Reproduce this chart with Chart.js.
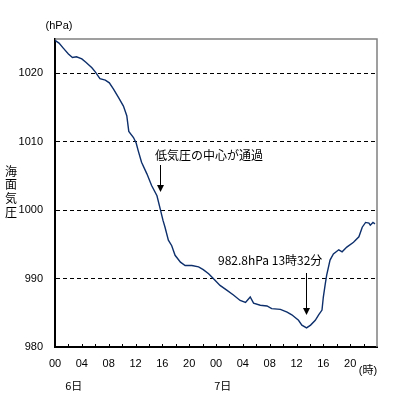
<!DOCTYPE html>
<html>
<head>
<meta charset="utf-8">
<script src="https://cdn.jsdelivr.net/npm/chart.js@4"></script>
<style>
  html, body { margin: 0; padding: 0; background: #fff; }
</style>
</head>
<body>
<canvas id="pressureChart" width="399" height="399"></canvas>
<script>
// elapsed hours since 6日 00時
const hours = [
  0.0, 0.6, 1.2, 2.0, 2.6, 3.2, 4.0, 4.6, 5.5, 6.0, 6.7, 7.5, 8.1, 8.7, 9.5,
  10.2, 10.7, 11.0, 11.7, 12.1, 12.4, 12.9, 13.7, 14.4, 15.2, 15.7, 16.1, 16.4,
  16.9, 17.4, 17.9, 18.7, 19.4, 20.4, 21.4, 22.1, 22.9, 23.6, 24.6, 25.6, 26.6,
  27.6, 28.4, 29.1, 29.6, 30.6, 31.6, 32.3, 33.6, 34.6, 35.3, 36.3, 36.8, 37.5,
  38.1, 38.8, 39.3, 39.8, 40.0, 40.3, 40.5, 41.0, 41.5, 42.3, 42.8, 43.5, 44.5,
  45.3, 45.8, 46.3, 46.8, 47.0, 47.4, 47.7
];
// sea level pressure (hPa)
const pressure = [
  1024.8, 1024.4, 1023.7, 1022.8, 1022.3, 1022.4, 1022.1, 1021.6, 1020.8, 1020.2, 1019.2, 1019.0, 1018.6, 1017.7, 1016.4,
  1015.2, 1013.8, 1011.5, 1010.6, 1009.8, 1008.7, 1007.0, 1005.3, 1003.6, 1002.1, 1000.1, 998.5, 997.5,
  995.6, 994.8, 993.4, 992.4, 991.9, 991.9, 991.7, 991.3, 990.7, 990.0, 989.0, 988.3, 987.6,
  986.8, 986.5, 987.3, 986.4, 986.1, 986.0, 985.6, 985.5, 985.1, 984.7, 983.9, 983.2, 982.8,
  983.2, 983.9, 984.7, 985.4, 987.3, 989.3, 990.5, 992.7, 993.6, 994.2, 993.9, 994.6, 995.3,
  996.1, 997.5, 998.2, 998.1, 997.8, 998.2, 998.0
];
const dayLabels = ['6日', '7日'];
const yTitle = '海面気圧';
const unitLabel = '(hPa)';
const hourUnit = '(時)';
const noteCenter = '低気圧の中心が通過';
const noteMin = '982.8hPa 13時32分';

const numFont = "'Liberation Sans', 'Noto Sans CJK JP', sans-serif";
const jpFont = "'Noto Sans CJK JP', sans-serif";

function arrow(ctx, x, y0, y1){
  ctx.beginPath();
  ctx.moveTo(x, y0); ctx.lineTo(x, y1 - 6);
  ctx.stroke();
  ctx.beginPath();
  ctx.moveTo(x - 3.5, y1 - 7); ctx.lineTo(x + 3.5, y1 - 7); ctx.lineTo(x, y1);
  ctx.closePath();
  ctx.fill();
}

const extras = {
  id: 'extras',
  afterDraw(chart){
    const { ctx, chartArea: a, scales: { x } } = chart;
    ctx.save();
    // gray frame on top and right
    ctx.strokeStyle = '#808080'; ctx.lineWidth = 1.5;
    ctx.beginPath();
    ctx.moveTo(a.left, a.top); ctx.lineTo(a.right, a.top); ctx.lineTo(a.right, a.bottom);
    ctx.stroke();
    // inward ticks every 2 hours
    ctx.strokeStyle = '#000'; ctx.lineWidth = 1;
    for (let h = 2; h < 48; h += 2) {
      const px = Math.round(x.getPixelForValue(h)) + 0.5;
      ctx.beginPath(); ctx.moveTo(px, a.bottom); ctx.lineTo(px, a.bottom - 3); ctx.stroke();
    }
    ctx.fillStyle = '#000';
    ctx.textAlign = 'center'; ctx.textBaseline = 'middle';
    ctx.font = '11px ' + numFont;
    ctx.fillText(unitLabel, 59, 26);
    ctx.fillText(hourUnit, 368, 371);
    ctx.font = '12px ' + jpFont;
    [...yTitle].forEach((ch, i) => ctx.fillText(ch, 11, 171 + i * 13.7));
    ctx.font = '11px ' + jpFont;
    ctx.fillText(dayLabels[0], x.getPixelForValue(2.8), 386);
    ctx.fillText(dayLabels[1], x.getPixelForValue(25), 386);
    ctx.textAlign = 'left';
    ctx.font = '12px ' + jpFont;
    ctx.fillText(noteCenter, 155, 155);
    ctx.fillText(noteMin, 218, 260);
    ctx.strokeStyle = '#000'; ctx.lineWidth = 1;
    arrow(ctx, 160.5, 165, 192);
    arrow(ctx, 306.5, 273, 315);
    ctx.restore();
  }
};

new Chart(document.getElementById('pressureChart'), {
  type: 'line',
  data: {
    datasets: [{
      data: hours.map((h, i) => ({ x: h, y: pressure[i] })),
      borderColor: '#0d2f6b',
      borderWidth: 1.4,
      pointRadius: 0,
      tension: 0,
      fill: false
    }]
  },
  options: {
    responsive: false,
    animation: false,
    layout: { padding: { left: 0, top: 39, right: 22, bottom: 0 } },
    plugins: { legend: { display: false }, tooltip: { enabled: false } },
    scales: {
      x: {
        type: 'linear', min: 0, max: 48,
        afterFit(s){ s.height = 52; },
        border: { color: '#000', width: 2 },
        grid: { display: false, drawTicks: false },
        ticks: {
          stepSize: 4, autoSkip: false, maxRotation: 0, padding: 10, color: '#000',
          font: { size: 11, family: numFont },
          callback: v => v >= 48 ? '' : String(v % 24).padStart(2, '0')
        }
      },
      y: {
        min: 980, max: 1025,
        afterFit(s){ s.width = 55; },
        border: { color: '#000', width: 2, dash: [4, 3] },
        grid: {
          color: c => (c.tick.value > 980 && c.tick.value < 1025) ? '#000' : 'rgba(0,0,0,0)',
          lineWidth: 1, drawTicks: false
        },
        ticks: {
          stepSize: 10, includeBounds: false, padding: 12, color: '#000',
          font: { size: 11, family: numFont },
          callback: v => v % 10 === 0 ? String(v) : ''
        }
      }
    }
  },
  plugins: [extras]
});
</script>
</body>
</html>
